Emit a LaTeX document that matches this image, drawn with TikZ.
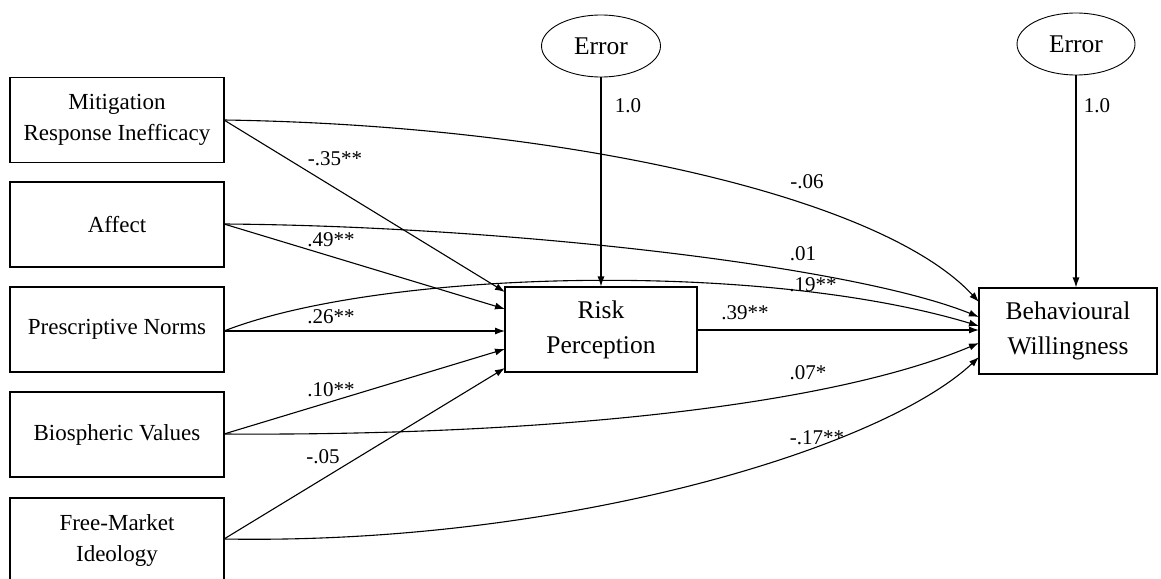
\documentclass[tikz,border=0pt]{standalone}
\usepackage{fontspec}
\setmainfont{Liberation Serif}
\usetikzlibrary{arrows.meta,shapes.geometric}
\begin{document}
\begin{tikzpicture}[x=1pt,y=-1pt,
  box/.style={draw,line width=1.1pt,rectangle,inner sep=0pt,align=center},
  leftbox/.style={box,minimum width=214pt,minimum height=85pt,font=\fontsize{23}{31}\selectfont},
  midbox/.style={box,font=\fontsize{25.5}{35}\selectfont},
  errnode/.style={draw,line width=0.9pt,ellipse,minimum width=119pt,minimum height=62pt,inner sep=0pt,font=\fontsize{25.5}{30}\selectfont},
  arr/.style={line width=1.1pt,-{Latex[length=10pt,width=7pt]}},
  lbl/.style={font=\fontsize{21}{24}\selectfont,inner sep=0pt}]
\useasboundingbox (0,0) rectangle (1161,578);
\clip (0,0) rectangle (1161,578);
\fill[white] (0,0) rectangle (1161,578);

% left boxes
\node[leftbox] (mit) at (117,120) {Mitigation\\Response Inefficacy};
\node[leftbox] (aff) at (117,224.5) {Affect};
\node[leftbox] (pre) at (117,329.5) {Prescriptive Norms};
\node[leftbox] (bio) at (117,434.5) {Biospheric Values};
\node[leftbox] (fmi) at (117,540.5) {Free-Market\\Ideology};

% central boxes
\node[midbox,minimum width=192pt,minimum height=85pt] (risk) at (601,329.5) {Risk\\Perception};
\node[midbox,minimum width=178pt,minimum height=86pt] (beh) at (1068,331) {Behavioural\\Willingness};

% error ellipses
\node[errnode] (e1) at (601,46) {Error};
\node[errnode,minimum width=118pt] (e2) at (1076,44) {Error};

% arrival points
\coordinate (r1) at (505,292);
\coordinate (r2) at (505,309);
\coordinate (r3) at (505,331);
\coordinate (r4) at (505,349);
\coordinate (r5) at (505,368);
\coordinate (b1) at (979,302);
\coordinate (b2) at (979,317);
\coordinate (b3) at (979,326);
\coordinate (b4) at (979,330);
\coordinate (b5) at (979,343);
\coordinate (b6) at (979,357);
\coordinate (ms) at (224,120);
\coordinate (as) at (224,224);
\coordinate (ps) at (224,331);
\coordinate (bs) at (224,434);
\coordinate (fs) at (224,539);
\coordinate (rs) at (697,330);

% error arrows
\draw[arr] (e1.south) -- (e1.south |- risk.north);
\draw[arr] (e2.south) -- (e2.south |- beh.north);
\node[lbl] at (628,106) {1.0};
\node[lbl] at (1097,106) {1.0};

% paths to risk perception
\draw[arr] (ms) -- (r1);
\draw[arr] (as) -- (r2);
\draw[arr] (ps) -- (r3);
\draw[arr] (bs) -- (r4);
\draw[arr] (fs) -- (r5);
\node[lbl] at (335,159) {-.35**};
\node[lbl] at (331,240) {.49**};
\node[lbl] at (331,317) {.26**};
\node[lbl] at (331,390) {.10**};
\node[lbl] at (323,457) {-.05};

% risk to behavioural
\draw[arr] (rs) -- (b4);
\node[lbl] at (745,313) {.39**};

% direct paths to behavioural willingness
\draw[arr] (ms) .. controls (560,125) and (880,195) .. (b1);
\draw[arr] (as) .. controls (500,226) and (850,265) .. (b2);
\draw[arr] (ps) .. controls (380,270) and (760,260) .. (b3);
\draw[arr] (bs) .. controls (520,436) and (820,410) .. (b5);
\draw[arr] (fs) .. controls (560,545) and (880,450) .. (b6);
\node[lbl] at (807,182) {-.06};
\node[lbl] at (803,254) {.01};
\node[lbl] at (813,285) {.19**};
\node[lbl] at (808,373) {.07*};
\node[lbl] at (817,438) {-.17**};
\end{tikzpicture}
\end{document}
